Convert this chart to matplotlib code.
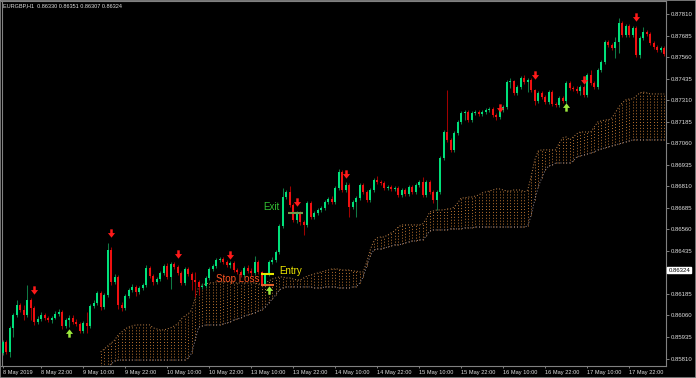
import numpy as np
import matplotlib.pyplot as plt
from matplotlib.patches import Rectangle
from matplotlib.transforms import blended_transform_factory

# EURGBP H1, bar by bar (open of each bar = close of the previous one)
first_open = 0.85842
closes = [
    0.85906, 0.85848, 0.85988, 0.86063, 0.86121, 0.86092, 0.86063, 0.86150, 0.86104, 0.86022,  # 0
    0.86040, 0.86063, 0.86046, 0.86034, 0.86046, 0.86069, 0.86080, 0.85999, 0.86034, 0.86046,  # 10
    0.86022, 0.86011, 0.85970, 0.86017, 0.85999, 0.86115, 0.86133, 0.86191, 0.86109, 0.86179,  # 20
    0.86441, 0.86255, 0.86284, 0.86121, 0.86104, 0.86173, 0.86208, 0.86226, 0.86197, 0.86220,  # 30
    0.86237, 0.86336, 0.86289, 0.86255, 0.86272, 0.86307, 0.86347, 0.86284, 0.86359, 0.86342,  # 40
    0.86307, 0.86249, 0.86330, 0.86301, 0.86266, 0.86255, 0.86226, 0.86231, 0.86278, 0.86330,  # 50
    0.86347, 0.86382, 0.86388, 0.86371, 0.86353, 0.86365, 0.86324, 0.86313, 0.86295, 0.86336,  # 60
    0.86318, 0.86307, 0.86371, 0.86313, 0.86237, 0.86301, 0.86371, 0.86382, 0.86429, 0.86580,  # 70
    0.86748, 0.86778, 0.86702, 0.86615, 0.86656, 0.86603, 0.86586, 0.86714, 0.86632, 0.86656,  # 80
    0.86673, 0.86685, 0.86719, 0.86737, 0.86719, 0.86801, 0.86894, 0.86789, 0.86818, 0.86690,  # 90
    0.86719, 0.86743, 0.86818, 0.86778, 0.86731, 0.86789, 0.86847, 0.86836, 0.86830, 0.86801,  # 100
    0.86807, 0.86795, 0.86801, 0.86760, 0.86789, 0.86766, 0.86807, 0.86778, 0.86818, 0.86836,  # 110
    0.86760, 0.86836, 0.86778, 0.86731, 0.86778, 0.86975, 0.87126, 0.87080, 0.87022, 0.87120,  # 120
    0.87184, 0.87237, 0.87242, 0.87196, 0.87237, 0.87242, 0.87231, 0.87242, 0.87254, 0.87260,  # 130
    0.87225, 0.87213, 0.87254, 0.87271, 0.87417, 0.87422, 0.87353, 0.87387, 0.87440, 0.87417,  # 140
    0.87428, 0.87370, 0.87306, 0.87353, 0.87329, 0.87300, 0.87358, 0.87289, 0.87283, 0.87324,  # 150
    0.87306, 0.87411, 0.87382, 0.87376, 0.87364, 0.87387, 0.87341, 0.87457, 0.87411, 0.87387,  # 160
    0.87486, 0.87533, 0.87649, 0.87632, 0.87614, 0.87649, 0.87759, 0.87690, 0.87742, 0.87690,  # 170
    0.87730, 0.87574, 0.87672, 0.87707, 0.87695, 0.87643, 0.87620, 0.87603, 0.87614, 0.87579,  # 180
]
highs = [
    0.85918, 0.85918, 0.85999, 0.86075, 0.86150, 0.86133, 0.86121, 0.86237, 0.86162, 0.86115,
    0.86057, 0.86080, 0.86075, 0.86057, 0.86057, 0.86086, 0.86098, 0.86092, 0.86046, 0.86063,
    0.86063, 0.86040, 0.86022, 0.86028, 0.86080, 0.86127, 0.86150, 0.86202, 0.86202, 0.86191,
    0.86481, 0.86458, 0.86301, 0.86295, 0.86138, 0.86185, 0.86220, 0.86243, 0.86237, 0.86231,
    0.86249, 0.86353, 0.86347, 0.86301, 0.86284, 0.86318, 0.86359, 0.86365, 0.86371, 0.86371,
    0.86353, 0.86318, 0.86342, 0.86342, 0.86313, 0.86313, 0.86266, 0.86249, 0.86289, 0.86342,
    0.86359, 0.86394, 0.86400, 0.86400, 0.86382, 0.86377, 0.86377, 0.86336, 0.86324, 0.86347,
    0.86353, 0.86336, 0.86406, 0.86382, 0.86318, 0.86307, 0.86382, 0.86400, 0.86441, 0.86592,
    0.86801, 0.86789, 0.86812, 0.86714, 0.86667, 0.86667, 0.86615, 0.86725, 0.86725, 0.86667,
    0.86685, 0.86696, 0.86731, 0.86748, 0.86754, 0.86812, 0.86911, 0.86905, 0.86836, 0.86830,
    0.86731, 0.86754, 0.86830, 0.86830, 0.86789, 0.86801, 0.86859, 0.86870, 0.86847, 0.86841,
    0.86818, 0.86818, 0.86812, 0.86812, 0.86801, 0.86801, 0.86818, 0.86818, 0.86830, 0.86847,
    0.86865, 0.86847, 0.86847, 0.86789, 0.86789, 0.86987, 0.87138, 0.87370, 0.87091, 0.87132,
    0.87196, 0.87248, 0.87254, 0.87254, 0.87248, 0.87254, 0.87254, 0.87254, 0.87266, 0.87271,
    0.87271, 0.87237, 0.87266, 0.87283, 0.87428, 0.87440, 0.87428, 0.87399, 0.87451, 0.87457,
    0.87440, 0.87440, 0.87376, 0.87364, 0.87364, 0.87341, 0.87370, 0.87370, 0.87300, 0.87335,
    0.87335, 0.87422, 0.87422, 0.87393, 0.87393, 0.87399, 0.87399, 0.87469, 0.87486, 0.87422,
    0.87498, 0.87544, 0.87661, 0.87661, 0.87643, 0.87678, 0.87788, 0.87771, 0.87754, 0.87754,
    0.87742, 0.87742, 0.87684, 0.87736, 0.87719, 0.87707, 0.87655, 0.87632, 0.87626, 0.87626,
]
lows = [
    0.85830, 0.85836, 0.85819, 0.85935, 0.86051, 0.86080, 0.86034, 0.86051, 0.86034, 0.86005,
    0.86011, 0.86028, 0.86034, 0.86022, 0.86017, 0.86040, 0.86057, 0.85982, 0.85988, 0.85993,
    0.86011, 0.85999, 0.85959, 0.85959, 0.85959, 0.85988, 0.86104, 0.86121, 0.86092, 0.86098,
    0.86168, 0.86237, 0.86243, 0.86098, 0.86086, 0.86092, 0.86162, 0.86197, 0.86173, 0.86185,
    0.86208, 0.86226, 0.86278, 0.86237, 0.86243, 0.86260, 0.86295, 0.86272, 0.86214, 0.86330,
    0.86295, 0.86237, 0.86237, 0.86289, 0.86208, 0.86168, 0.86179, 0.86214, 0.86220, 0.86266,
    0.86318, 0.86336, 0.86371, 0.86359, 0.86342, 0.86336, 0.86313, 0.86301, 0.86284, 0.86284,
    0.86307, 0.86289, 0.86295, 0.86301, 0.86231, 0.86231, 0.86289, 0.86359, 0.86371, 0.86417,
    0.86569, 0.86737, 0.86690, 0.86603, 0.86598, 0.86586, 0.86528, 0.86575, 0.86621, 0.86621,
    0.86644, 0.86661, 0.86673, 0.86708, 0.86708, 0.86708, 0.86789, 0.86778, 0.86778, 0.86632,
    0.86679, 0.86632, 0.86731, 0.86766, 0.86719, 0.86719, 0.86778, 0.86824, 0.86818, 0.86789,
    0.86789, 0.86783, 0.86783, 0.86748, 0.86748, 0.86754, 0.86754, 0.86766, 0.86766, 0.86807,
    0.86748, 0.86748, 0.86766, 0.86714, 0.86673, 0.86766, 0.86963, 0.87068, 0.87010, 0.87010,
    0.87109, 0.87173, 0.87196, 0.87184, 0.87184, 0.87225, 0.87219, 0.87219, 0.87231, 0.87242,
    0.87213, 0.87196, 0.87202, 0.87242, 0.87260, 0.87382, 0.87341, 0.87341, 0.87376, 0.87405,
    0.87358, 0.87358, 0.87283, 0.87295, 0.87318, 0.87289, 0.87289, 0.87277, 0.87271, 0.87271,
    0.87295, 0.87295, 0.87370, 0.87364, 0.87353, 0.87341, 0.87329, 0.87329, 0.87399, 0.87376,
    0.87376, 0.87475, 0.87521, 0.87620, 0.87603, 0.87556, 0.87585, 0.87678, 0.87678, 0.87678,
    0.87678, 0.87562, 0.87556, 0.87661, 0.87684, 0.87632, 0.87608, 0.87591, 0.87591, 0.87568,
]

# ichimoku cloud (span A on top, span B below), starting at bar 28
cloud_start = 28
cloud_top = [
    0.85848, 0.85865, 0.85883, 0.85900, 0.85918, 0.85947, 0.85964, 0.85982, 0.85993, 0.85999,  # 28
    0.86005, 0.86005, 0.86005, 0.86005, 0.86005, 0.85988, 0.85982, 0.85976, 0.85976, 0.85982,  # 38
    0.85988, 0.85999, 0.86011, 0.86040, 0.86057, 0.86069, 0.86092, 0.86162, 0.86226, 0.86237,  # 48
    0.86243, 0.86249, 0.86249, 0.86255, 0.86255, 0.86255, 0.86255, 0.86255, 0.86249, 0.86249,  # 58
    0.86249, 0.86249, 0.86249, 0.86249, 0.86249, 0.86243, 0.86243, 0.86249, 0.86260, 0.86272,  # 68
    0.86278, 0.86284, 0.86284, 0.86278, 0.86278, 0.86272, 0.86266, 0.86266, 0.86278, 0.86289,  # 78
    0.86295, 0.86301, 0.86307, 0.86313, 0.86318, 0.86324, 0.86330, 0.86330, 0.86330, 0.86324,  # 88
    0.86324, 0.86324, 0.86318, 0.86318, 0.86313, 0.86313, 0.86371, 0.86441, 0.86493, 0.86511,  # 98
    0.86516, 0.86516, 0.86528, 0.86540, 0.86551, 0.86574, 0.86586, 0.86586, 0.86586, 0.86586,  # 108
    0.86586, 0.86586, 0.86592, 0.86621, 0.86661, 0.86667, 0.86673, 0.86673, 0.86673, 0.86679,  # 118
    0.86679, 0.86690, 0.86714, 0.86743, 0.86743, 0.86748, 0.86748, 0.86754, 0.86760, 0.86772,  # 128
    0.86778, 0.86783, 0.86789, 0.86795, 0.86795, 0.86789, 0.86783, 0.86783, 0.86789, 0.86789,  # 138
    0.86789, 0.86778, 0.86789, 0.86870, 0.86963, 0.87016, 0.87022, 0.87022, 0.87022, 0.87022,  # 148
    0.87022, 0.87062, 0.87091, 0.87097, 0.87080, 0.87097, 0.87115, 0.87126, 0.87126, 0.87126,  # 158
    0.87126, 0.87155, 0.87184, 0.87190, 0.87196, 0.87196, 0.87207, 0.87237, 0.87271, 0.87295,  # 168
    0.87312, 0.87318, 0.87318, 0.87335, 0.87353, 0.87358, 0.87353, 0.87347, 0.87347, 0.87347,  # 178
    0.87347, 0.87347,
]
cloud_bot = [
    0.85732, 0.85743, 0.85761, 0.85778, 0.85796, 0.85801, 0.85801, 0.85801, 0.85801, 0.85801,  # 28
    0.85801, 0.85801, 0.85801, 0.85801, 0.85801, 0.85801, 0.85801, 0.85801, 0.85801, 0.85801,  # 38
    0.85801, 0.85801, 0.85801, 0.85801, 0.85801, 0.85813, 0.85842, 0.85918, 0.85993, 0.85999,  # 48
    0.86005, 0.86005, 0.86005, 0.86005, 0.86005, 0.86011, 0.86017, 0.86022, 0.86034, 0.86040,  # 58
    0.86046, 0.86057, 0.86063, 0.86069, 0.86075, 0.86086, 0.86092, 0.86109, 0.86133, 0.86156,  # 68
    0.86179, 0.86208, 0.86220, 0.86226, 0.86226, 0.86226, 0.86226, 0.86226, 0.86226, 0.86226,  # 78
    0.86226, 0.86220, 0.86220, 0.86220, 0.86226, 0.86226, 0.86226, 0.86226, 0.86220, 0.86220,  # 88
    0.86220, 0.86220, 0.86226, 0.86226, 0.86249, 0.86284, 0.86347, 0.86406, 0.86441, 0.86446,  # 98
    0.86446, 0.86452, 0.86458, 0.86464, 0.86470, 0.86470, 0.86475, 0.86481, 0.86487, 0.86493,  # 108
    0.86493, 0.86499, 0.86499, 0.86522, 0.86551, 0.86557, 0.86557, 0.86557, 0.86557, 0.86557,  # 118
    0.86563, 0.86563, 0.86563, 0.86563, 0.86569, 0.86569, 0.86569, 0.86574, 0.86574, 0.86574,  # 128
    0.86574, 0.86574, 0.86574, 0.86574, 0.86574, 0.86574, 0.86574, 0.86574, 0.86574, 0.86574,  # 138
    0.86574, 0.86574, 0.86580, 0.86644, 0.86731, 0.86807, 0.86859, 0.86905, 0.86929, 0.86934,  # 148
    0.86946, 0.86946, 0.86946, 0.86946, 0.86946, 0.86957, 0.86981, 0.86987, 0.86992, 0.86998,  # 158
    0.87004, 0.87010, 0.87022, 0.87027, 0.87033, 0.87039, 0.87045, 0.87051, 0.87056, 0.87062,  # 168
    0.87068, 0.87074, 0.87080, 0.87080, 0.87080, 0.87080, 0.87080, 0.87080, 0.87080, 0.87080,  # 178
    0.87080, 0.87080,
]

# signal arrows
down_bars = [9, 31, 50, 65, 84, 98, 142, 152, 166, 181]
down_prices = [0.86208, 0.86540, 0.86417, 0.86412, 0.86719, 0.86882, 0.87266, 0.87457, 0.87428, 0.87794]
up_bars = [19, 76, 161]
up_prices = [0.85959, 0.86208, 0.87271]

# trade marks
entry_price = 0.86303
stop_price = 0.86237
exit_price = 0.86656
bid_price = 0.86324

header = 'EURGBP,H1  0.86330 0.86351 0.86307 0.86324'
ytick_values = [0.87810, 0.87685, 0.87560, 0.87435, 0.87310, 0.87185, 0.87060, 0.86935,
                0.86810, 0.86685, 0.86560, 0.86435, 0.86185, 0.86060, 0.85935, 0.85810]
xtick_bars = [0, 11, 23, 35, 47, 59, 71, 83, 95, 107, 119, 131, 143, 155, 167, 179]
xtick_labels = ['8 May 2019', '8 May 22:00', '9 May 10:00', '9 May 22:00', '10 May 10:00',
                '10 May 22:00', '13 May 10:00', '13 May 22:00', '14 May 10:00', '14 May 22:00',
                '15 May 10:00', '15 May 22:00', '16 May 10:00', '16 May 22:00', '17 May 10:00',
                '17 May 22:00']

plt.rcParams['font.family'] = ['Liberation Sans', 'DejaVu Sans']

fig = plt.figure(figsize=(6.96, 3.78), dpi=100, facecolor='black')
ax = fig.add_axes([1.5 / 696, 12 / 378, 664.5 / 696, 365 / 378])
ax.set_facecolor('black')

x = np.arange(len(closes))
c = np.array(closes)
o = np.concatenate([[first_open], c[:-1]])
h = np.maximum(np.array(highs), np.maximum(o, c))
l = np.minimum(np.array(lows), np.minimum(o, c))
up = c >= o

# cloud as dotted histogram
cx = np.arange(cloud_start, cloud_start + len(cloud_top))
ax.vlines(cx, cloud_bot, cloud_top, colors='#b8722f', linestyles=(0, (1, 2)), linewidth=0.7, zorder=1)
ax.plot(cx, cloud_top, color='#c98a4e', ls=(0, (1, 2)), lw=0.7, zorder=1)
ax.plot(cx, cloud_bot, color='#9a8f9a', ls=(0, (1, 2)), lw=0.7, zorder=1)

# candles
ax.vlines(x[up], l[up], h[up], colors='#0f7a44', lw=0.75, zorder=2)
ax.vlines(x[~up], l[~up], h[~up], colors='#a00000', lw=0.75, zorder=2)
body = np.maximum(np.abs(c - o), 0.00005)
bottom = np.minimum(o, c)
ax.bar(x[up], body[up], bottom=bottom[up], width=0.6, color='#00e07a', lw=0, zorder=3)
ax.bar(x[~up], body[~up], bottom=bottom[~up], width=0.6, color='#f01010', lw=0, zorder=3)

# arrows
down_marker = [(-0.3, 1), (0.3, 1), (0.3, 0.1), (0.85, 0.1), (0, -1), (-0.85, 0.1), (-0.3, 0.1), (-0.3, 1)]
up_marker = [(px, -py) for px, py in down_marker]
ax.plot(down_bars, down_prices, ls='none', marker=down_marker, ms=6, color='#ff1a1a', mew=0, zorder=4)
ax.plot(up_bars, up_prices, ls='none', marker=up_marker, ms=6, color='#9be83c', mew=0, zorder=4)

# entry / stop / exit
ax.hlines(entry_price, 73.7, 77.6, colors='#e6e600', lw=1.5, zorder=5)
ax.hlines(stop_price, 73.7, 77.6, colors='#e0602a', lw=1.5, zorder=5)
ax.hlines(exit_price, 81.5, 85.8, colors='#6f9b4a', lw=1.5, zorder=5)
ax.text(73.4, 0.86270, 'Stop Loss', color='#ff5522', fontsize=7, ha='right', va='center', zorder=6)
ax.text(78.9, 0.86316, 'Entry', color='#f0e800', fontsize=7, ha='left', va='center', zorder=6)
ax.text(74.5, 0.86691, 'Exit', color='#33c033', fontsize=7, ha='left', va='center', zorder=6)

ax.set_xlim(-0.34, 189.5)
ax.set_ylim(0.857665, 0.87887)

ax.yaxis.tick_right()
ax.set_yticks(ytick_values)
ax.set_yticklabels([f'{v:.5f}' for v in ytick_values])
ax.tick_params(axis='y', colors='#808080', labelcolor='#e0e0e0', length=2, width=0.7,
               pad=1.5, labelsize=4.3)
ax.set_xticks(xtick_bars)
ax.set_xticklabels(xtick_labels, ha='left')
ax.tick_params(axis='x', colors='#808080', labelcolor='#e0e0e0', length=1.5, width=0.7,
               pad=1.5, labelsize=4.1)
for s in ax.spines.values():
    s.set_color('#808080')
    s.set_linewidth(0.8)

# current bid box on the price scale
trans = blended_transform_factory(ax.transAxes, ax.transData)
ax.text(1.0035, bid_price, f'{bid_price:.5f}', transform=trans, fontsize=4.3, color='black',
        ha='left', va='center', zorder=7,
        bbox=dict(facecolor='white', edgecolor='white', pad=0.6))

fig.text(3 / 696, 1 - 5.5 / 378, header, color='#e0e0e0', fontsize=4.0, ha='left', va='center')
fig.patches.append(Rectangle((0, 0), 1, 1, transform=fig.transFigure, fill=False,
                             edgecolor='#8a8a8a', lw=1.2))

fig.savefig('out.png', dpi=100, facecolor='black')
